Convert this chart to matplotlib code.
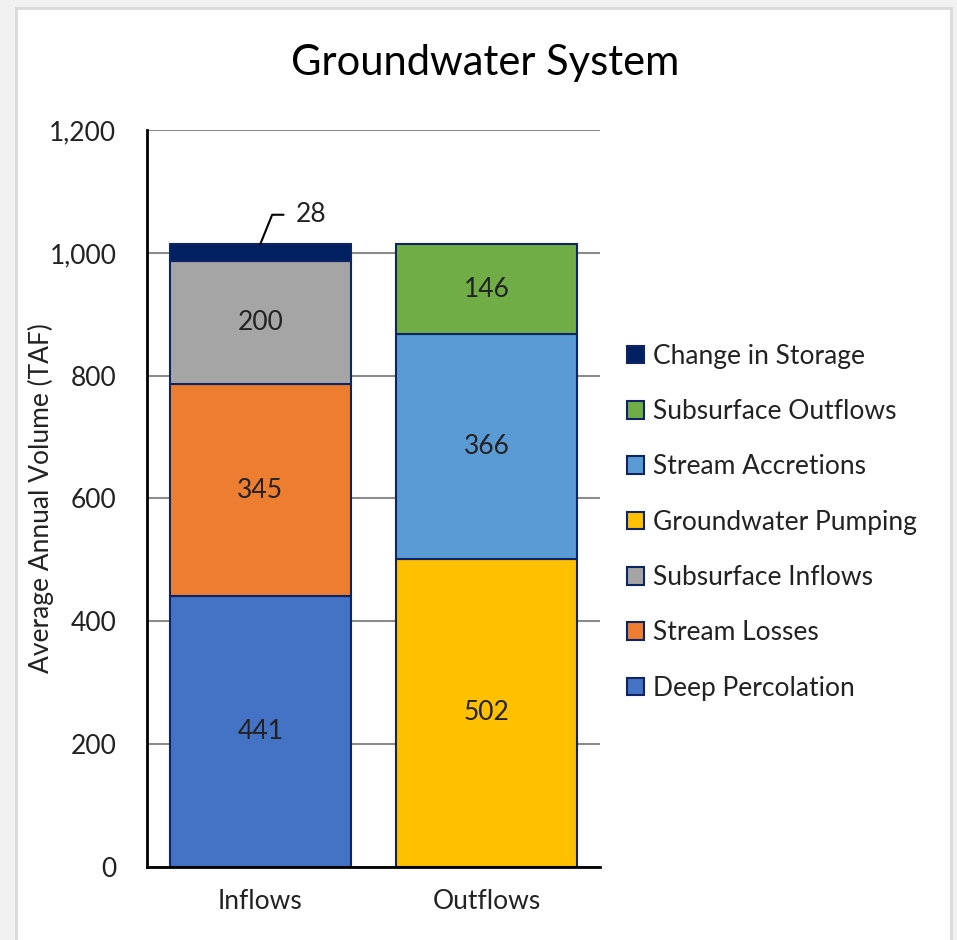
import matplotlib.pyplot as plt
from matplotlib.patches import Rectangle

# data
groups = ['Inflows', 'Outflows']
inflow_names = ['Deep Percolation', 'Stream Losses', 'Subsurface Inflows', 'Change in Storage']
inflow_vals = [441, 345, 200, 28]
outflow_names = ['Groundwater Pumping', 'Stream Accretions', 'Subsurface Outflows']
outflow_vals = [502, 366, 146]
yticks = [0, 200, 400, 600, 800, 1000, 1200]
legend_order = ['Change in Storage', 'Subsurface Outflows', 'Stream Accretions', 'Groundwater Pumping',
                'Subsurface Inflows', 'Stream Losses', 'Deep Percolation']

colors = {
    'Deep Percolation': '#4472C4',
    'Stream Losses': '#ED7D31',
    'Subsurface Inflows': '#A5A5A5',
    'Change in Storage': '#002060',
    'Groundwater Pumping': '#FFC000',
    'Stream Accretions': '#5B9BD5',
    'Subsurface Outflows': '#70AD47',
}
edge = '#0E2463'
FONT = 'Lato'
FS = 19

fig = plt.figure(figsize=(9.57, 9.4), dpi=100)
fig.patch.set_facecolor('#F1F1F1')
# white panel with light border
fig.patches.append(Rectangle((16 / 957, -0.01), (951 - 16) / 957, 1 - 8 / 940 + 0.01,
                             transform=fig.transFigure, facecolor='white', edgecolor='#D9D9D9',
                             linewidth=2, zorder=-5))

ax = fig.add_axes([147 / 957, (940 - 867) / 940, 453 / 957, 737 / 940])
ax.set_zorder(2)
ax.set_facecolor('none')

handles = {}
bottom = 0
for name, v in zip(inflow_names, inflow_vals):
    b = ax.bar(0, v, 0.8, bottom=bottom, color=colors[name], edgecolor=edge, linewidth=1.5, zorder=3)
    handles[name] = b
    if name != 'Change in Storage':
        ax.text(0, bottom + v / 2, str(v), ha='center', va='center', fontsize=FS, family=FONT,
                color='#222222', zorder=4)
    bottom += v
top_in = bottom
ax.annotate(str(inflow_vals[-1]), xy=(0, top_in), xytext=(0.158, 1062), ha='left', va='center',
            fontsize=FS, family=FONT, color='#222222',
            arrowprops=dict(arrowstyle='-', color='black', lw=1.5, relpos=(0, 0.5), shrinkA=7, shrinkB=0,
                            connectionstyle='angle,angleA=0,angleB=68,rad=0'))

bottom = 0
for name, v in zip(outflow_names, outflow_vals):
    b = ax.bar(1, v, 0.8, bottom=bottom, color=colors[name], edgecolor=edge, linewidth=1.5, zorder=3)
    handles[name] = b
    ax.text(1, bottom + v / 2, str(v), ha='center', va='center', fontsize=FS, family=FONT,
            color='#222222', zorder=4)
    bottom += v

ax.set_xlim(-0.5, 1.5)
ax.set_ylim(0, 1200)
ax.set_yticks(yticks)
ax.set_yticklabels(['{:,}'.format(t) for t in yticks], fontsize=FS, family=FONT, color='#222222')
ax.set_xticks([0, 1])
ax.set_xticklabels(groups, fontsize=FS, family=FONT, color='#222222')
ax.tick_params(axis='y', length=0, pad=22)
ax.tick_params(axis='x', length=0, pad=16)
ax.yaxis.grid(True, color='#8C8C8C', linewidth=1.5, zorder=0)
ax.set_axisbelow(True)
for s in ['top', 'right']:
    ax.spines[s].set_visible(False)
for s in ['left', 'bottom']:
    ax.spines[s].set_color('black')
    ax.spines[s].set_linewidth(2)
    ax.spines[s].set_zorder(5)
ax.set_ylabel('Average Annual Volume (TAF)', fontsize=FS, family=FONT, color='#222222')
ax.yaxis.set_label_coords(-0.205, 0.5)

fig.text(485 / 957, 1 - 63 / 940, 'Groundwater System', ha='center', va='center', fontsize=30,
         family=FONT, color='black')

leg = fig.legend([handles[n] for n in legend_order], legend_order, loc='upper left',
                 bbox_to_anchor=(603 / 957, 1 - 320 / 940), frameon=False,
                 prop={'family': FONT, 'size': FS}, labelspacing=1.15, handlelength=0.65,
                 handleheight=0.65, handletextpad=0.35)
for t in leg.get_texts():
    t.set_color('#222222')

fig.savefig('out.png', dpi=100, facecolor=fig.get_facecolor())
